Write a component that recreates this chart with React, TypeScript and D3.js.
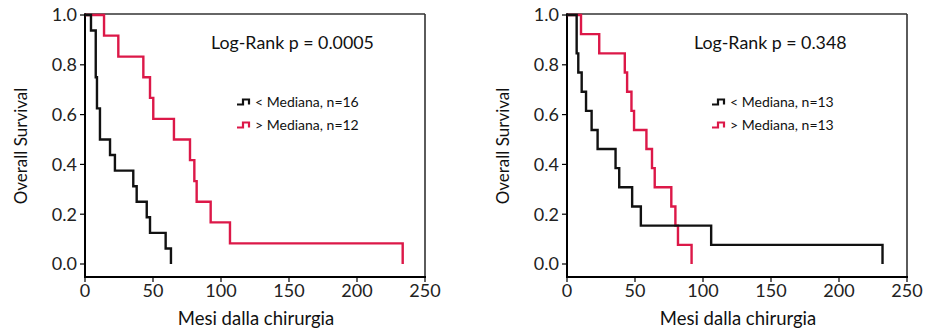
import React from "react";
import * as d3 from "d3";

// ---- data ----
const xTicks = [0, 50, 100, 150, 200, 250];
const yTicks = [0, 0.2, 0.4, 0.6, 0.8, 1.0];

const leftLowTimes = [0, 4.4, 7.9, 8.8, 11, 18.4, 22, 35.5, 38, 45.4, 47.8, 59.3, 63.2];
const leftLowSurv = [1, 0.9375, 0.75, 0.625, 0.5, 0.4375, 0.375, 0.3125, 0.25, 0.1875, 0.125, 0.0625, 0];
const leftHighTimes = [0, 14, 24.5, 42.9, 47.8, 50.2, 65.4, 77.2, 80.4, 82.1, 92.4, 106.6, 233.6];
const leftHighSurv = [1, 0.917, 0.833, 0.75, 0.667, 0.583, 0.5, 0.417, 0.333, 0.25, 0.167, 0.083, 0];

const rightLowTimes = [0, 7.1, 8.3, 10.8, 14, 18.1, 22.5, 35.7, 38.4, 47.9, 54.3, 106, 232];
const rightLowSurv = [1, 0.846, 0.769, 0.692, 0.615, 0.538, 0.462, 0.385, 0.308, 0.231, 0.154, 0.077, 0];
const rightHighTimes = [0, 10.3, 23.7, 42.5, 44.2, 47.4, 49.3, 58.4, 62.5, 64.5, 76.7, 79.7, 81.6, 91.6];
const rightHighSurv = [1, 0.923, 0.846, 0.769, 0.692, 0.615, 0.538, 0.462, 0.385, 0.308, 0.231, 0.154, 0.077, 0];

const leftPText = "Log-Rank p = 0.0005";
const rightPText = "Log-Rank p = 0.348";
const leftLegend = ["< Mediana, n=16", "> Mediana, n=12"];
const rightLegend = ["< Mediana, n=13", "> Mediana, n=13"];
const xTitle = "Mesi dalla chirurgia";
const yTitle = "Overall Survival";

const RED = "#DC1848";
const FONT = "Lato, 'Open Sans', sans-serif";

type PanelProps = {
  x0: number;
  low: [number[], number[]];
  high: [number[], number[]];
  pText: string;
  pX: number;
  legend: string[];
  legX: number;
};

function Panel({ x0, low, high, pText, pX, legend, legX }: PanelProps) {
  const x = d3.scaleLinear().domain([0, 250]).range([x0, x0 + 340]);
  const y = d3.scaleLinear().domain([0, 1]).range([264, 15]);
  const top = 14;
  const bottom = 277;
  const line = d3
    .line<[number, number]>()
    .x((d) => x(d[0]))
    .y((d) => y(d[1]))
    .curve(d3.curveStepAfter);
  const pts = (s: [number[], number[]]) =>
    s[0].map((t, i) => [t, s[1][i]] as [number, number]);
  const glyph = (gx: number, gy: number) =>
    `M${gx},${gy + 2.5}H${gx + 6}V${gy - 2.5}H${gx + 12}V${gy + 2.5}`;
  return (
    <g>
      {/* frame */}
      <line x1={x0} x2={x0 + 340} y1={top} y2={top} stroke="#333" strokeWidth={1.6} />
      <line x1={x0 + 340} x2={x0 + 340} y1={top} y2={bottom} stroke="#333" strokeWidth={1.6} />
      <line x1={x0} x2={x0} y1={top - 0.8} y2={bottom + 1} stroke="#000" strokeWidth={2} />
      <line x1={x0 - 1} x2={x0 + 341} y1={bottom} y2={bottom} stroke="#000" strokeWidth={2} />
      {/* y ticks */}
      {yTicks.map((t) => (
        <g key={"y" + t}>
          <line x1={x0 - 5} x2={x0} y1={y(t)} y2={y(t)} stroke="#000" strokeWidth={1.2} />
          <text x={x0 - 8} y={y(t)} dy="0.36em" textAnchor="end" fontSize={18} fontFamily={FONT} fill="#222">
            {d3.format(".1f")(t)}
          </text>
        </g>
      ))}
      {/* x ticks */}
      {xTicks.map((t) => (
        <g key={"x" + t}>
          <line x1={x(t)} x2={x(t)} y1={bottom} y2={bottom + 5} stroke="#000" strokeWidth={1.2} />
          <text x={x(t)} y={297} textAnchor="middle" fontSize={18} fontFamily={FONT} fill="#222">
            {t}
          </text>
        </g>
      ))}
      {/* curves */}
      <path d={line(pts(high)) || ""} fill="none" stroke={RED} strokeWidth={2.4} />
      <path d={line(pts(low)) || ""} fill="none" stroke="#111" strokeWidth={2.4} />
      {/* annotation */}
      <text x={pX} y={49} fontSize={17.8} fontFamily={FONT} fill="#111">
        {pText}
      </text>
      <path d={glyph(legX, 102)} fill="none" stroke="#111" strokeWidth={2.2} />
      <text x={legX + 18} y={102} dy="0.36em" fontSize={14} fontFamily={FONT} fill="#111">
        {legend[0]}
      </text>
      <path d={glyph(legX, 125)} fill="none" stroke={RED} strokeWidth={2.2} />
      <text x={legX + 18} y={125} dy="0.36em" fontSize={14} fontFamily={FONT} fill="#111">
        {legend[1]}
      </text>
      {/* titles */}
      <text x={x0 + 171} y={325} textAnchor="middle" fontSize={18.5} fontFamily={FONT} fill="#111">
        {xTitle}
      </text>
      <text
        transform={`translate(${x0 - 58},146) rotate(-90)`}
        textAnchor="middle"
        fontSize={17}
        fontFamily={FONT}
        fill="#111"
      >
        {yTitle}
      </text>
    </g>
  );
}

export default function App() {
  return (
    <div style={{ position: "fixed", left: 0, top: 0 }}>
      <svg width={926} height={335} style={{ display: "block", background: "#fff" }}>
        <Panel
          x0={85}
          low={[leftLowTimes, leftLowSurv]}
          high={[leftHighTimes, leftHighSurv]}
          pText={leftPText}
          pX={211}
          legend={leftLegend}
          legX={237}
        />
        <Panel
          x0={567}
          low={[rightLowTimes, rightLowSurv]}
          high={[rightHighTimes, rightHighSurv]}
          pText={rightPText}
          pX={694}
          legend={rightLegend}
          legX={712}
        />
      </svg>
    </div>
  );
}
